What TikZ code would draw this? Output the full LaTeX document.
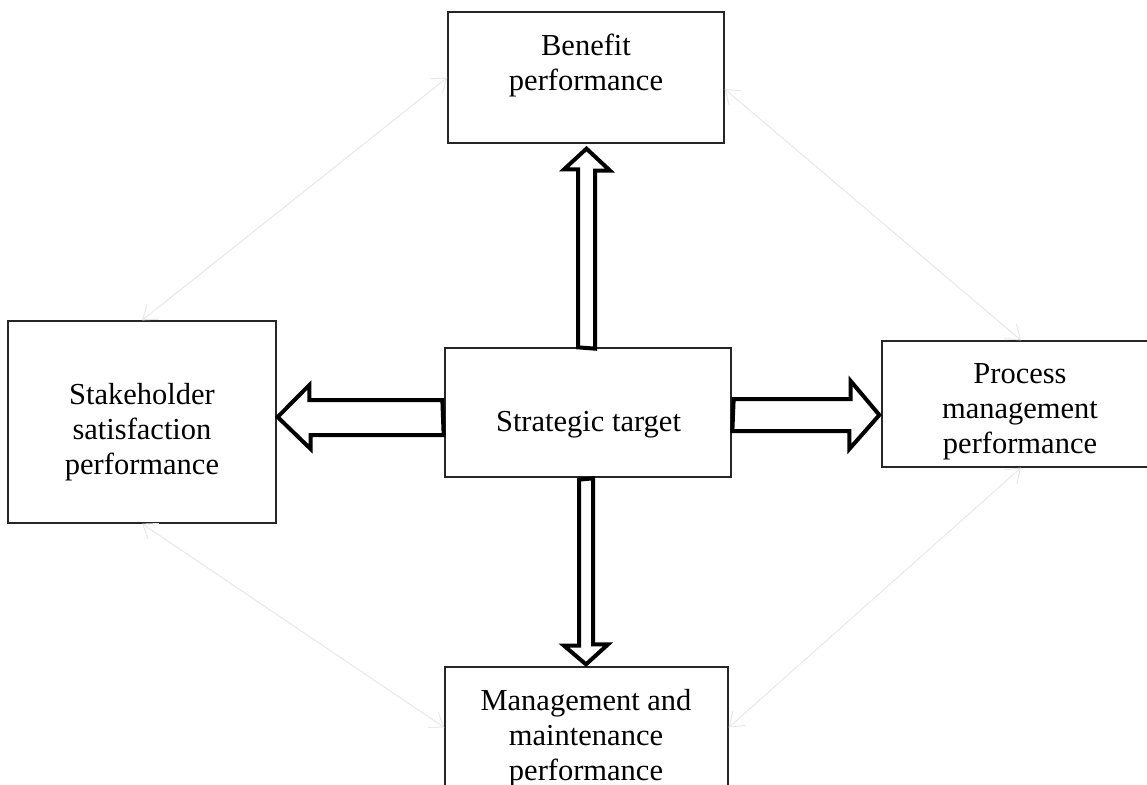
\documentclass[tikz,border=0pt]{standalone}
\usepackage{fontspec}
\setmainfont{Liberation Serif}
\usetikzlibrary{arrows.meta}
\begin{document}
\begin{tikzpicture}[x=1pt,y=-1pt,
  box/.style={draw=black!85,line width=1.3pt,fill=none,inner sep=0pt,rectangle},
  txt/.style={anchor=base,inner sep=0pt,font=\fontsize{30.5}{35}\selectfont},
  blk/.style={draw=black,line width=4pt,line join=miter,fill=white},
  link/.style={draw=black!9,line width=1pt,{Straight Barb[length=13pt,width=19pt,line width=1pt]}-{Straight Barb[length=13pt,width=19pt,line width=1pt]}}
]
\useasboundingbox (0,0) rectangle (1147,784);
\fill[white] (0,0) rectangle (1147,784);
\clip (0,0) rectangle (1147,784);

% boxes
\node[box,minimum width=276pt,minimum height=131pt] (ben) at (586,77.5) {};
\node[box,minimum width=286pt,minimum height=129pt] (st) at (588,412.5) {};
\node[box,minimum width=268pt,minimum height=202pt] (sh) at (142,422) {};
\node[box,minimum width=278pt,minimum height=126pt] (pr) at (1021,404) {};
\node[box,minimum width=283pt,minimum height=133pt] (mg) at (586.5,733.5) {};

% texts
\node[txt] (benT) at (586,56) {\begin{tabular}[t]{@{}c@{}}Benefit\\performance\end{tabular}};
\node[txt] (stT) at (588.5,431) {Strategic target};
\node[txt] (shT) at (142,404) {\begin{tabular}[t]{@{}c@{}}Stakeholder\\satisfaction\\performance\end{tabular}};
\node[txt] (prT) at (1020,383) {\begin{tabular}[t]{@{}c@{}}Process\\management\\performance\end{tabular}};
\node[txt] (mgT) at (586,710) {\begin{tabular}[t]{@{}c@{}}Management and\\maintenance\\performance\end{tabular}};

% light double arrows
\draw[link] (ben.west) -- (sh.north);
\draw[link] ([yshift=-11.5pt]ben.east) -- (pr.north);
\draw[link] (sh.south) -- ([yshift=6pt]mg.west);
\draw[link] (pr.south) -- ([yshift=6pt]mg.east);

% block arrows
% up
\draw[blk] ([xshift=-10pt]st.north) -- ++(0,-178) -- ++(-14,0)
  -- ([xshift=0.5pt,yshift=-5pt]ben.south) -- ++(23.5,22) -- ++(-15,0) -- ++(0,178) -- cycle;
% left
\draw[blk] ([xshift=-2pt,yshift=12.5pt]st.west) -- ++(-133,0) -- ++(0,-15)
  -- ([xshift=1pt,yshift=5pt]sh.east) -- ++(33,32) -- ++(0,-14) -- ++(133,0) -- cycle;
% right
\draw[blk] ([xshift=2pt,yshift=13.5pt]st.east) -- ++(117,0) -- ++(0,-18)
  -- ([xshift=-2pt,yshift=-11pt]pr.west) -- ++(-30,34) -- ++(0,-18) -- ++(-117,0) -- cycle;
% down
\draw[blk] ([xshift=-9pt,yshift=-2pt]st.south) -- ++(0,166) -- ++(-15,0)
  -- ([xshift=-0.5pt,yshift=2pt]mg.north) -- ++(22,-20) -- ++(-15,0) -- ++(0,-166) -- cycle;
\end{tikzpicture}
\end{document}
